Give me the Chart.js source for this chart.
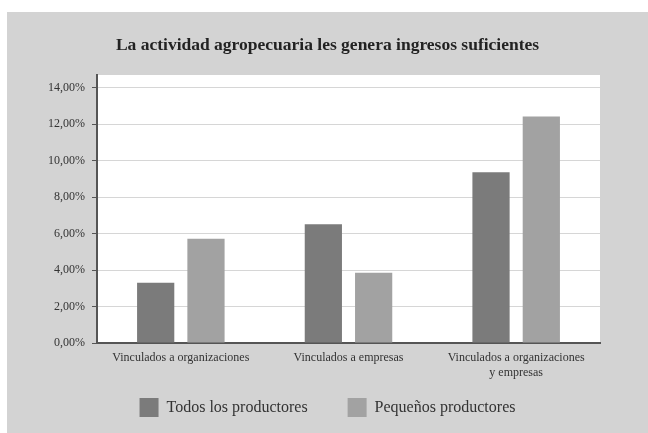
<!DOCTYPE html>
<html>
<head>
<meta charset="utf-8">
<script src="https://cdn.jsdelivr.net/npm/chart.js@4.4.0/dist/chart.umd.min.js"></script>
<style>
  html, body { margin: 0; padding: 0; background: #ffffff; }
  #box { position: absolute; left: 7px; top: 12px; width: 641px; height: 421px; background: #d3d3d3; }
</style>
</head>
<body>
<div id="box"><canvas id="chart"></canvas></div>
<script>
const categories = [
    "Vinculados a organizaciones",
    "Vinculados a empresas",
    ["Vinculados a organizaciones", "y empresas"]
];
const todosValues = [3.30, 6.52, 9.36];
const pequenosValues = [5.72, 3.85, 12.42];
const seriesNames = ["Todos los productores", "Pequeños productores"];
const yTickValues = [0, 2, 4, 6, 8, 10, 12, 14];

// white plot area behind the bars
const plotBackground = {
    id: 'plotBackground',
    beforeDraw(chart) {
        const a = chart.chartArea;
        const ctx = chart.ctx;
        ctx.save();
        ctx.fillStyle = '#ffffff';
        ctx.fillRect(a.left, a.top, a.right - a.left, a.bottom - a.top);
        ctx.restore();
    }
};

// legend padding is wide (for the gap between items), so pull the legend up a bit
const legendLift = {
    id: 'legendLift',
    afterLayout(chart) {
        chart.legend.top -= 22;
        chart.legend.height += 22;
    }
};

const serif = "'Liberation Serif', 'DejaVu Serif', serif";

new Chart(document.getElementById('chart'), {
    type: 'bar',
    data: {
        labels: categories,
        datasets: [{
            label: seriesNames[0],
            data: todosValues,
            backgroundColor: '#7b7b7b'
        }, {
            label: seriesNames[1],
            data: pequenosValues,
            backgroundColor: '#a2a2a2'
        }]
    },
    options: {
        responsive: true,
        maintainAspectRatio: false,
        animation: false,
        layout: { padding: { left: 0, right: 0, top: 0, bottom: 0 } },
        datasets: { bar: { categoryPercentage: 0.6, barPercentage: 0.74 } },
        plugins: {
            title: {
                display: true,
                text: 'La actividad agropecuaria les genera ingresos suficientes',
                color: '#222222',
                font: { family: serif, size: 17.5, weight: 'bold' },
                padding: { top: 23, bottom: 19 }
            },
            legend: {
                position: 'bottom',
                maxHeight: 53,
                labels: {
                    color: '#333333',
                    font: { family: serif, size: 16 },
                    boxWidth: 19,
                    boxHeight: 19,
                    padding: 40
                }
            },
            tooltip: { enabled: false }
        },
        scales: {
            x: {
                afterFit: scale => { scale.height = 37; },
                grid: { display: false },
                border: { display: true, color: '#555555', width: 2 },
                ticks: {
                    color: '#333333',
                    font: { family: serif, size: 12 },
                    maxRotation: 0,
                    padding: 0
                }
            },
            y: {
                min: 0,
                max: 14.7,
                afterFit: scale => { scale.width = 90; },
                afterBuildTicks: scale => {
                    scale.ticks = yTickValues.map(v => ({ value: v }));
                },
                grid: { color: '#d6d6d6', tickColor: '#555555', tickLength: 5 },
                border: { display: true, color: '#555555', width: 2 },
                ticks: {
                    color: '#333333',
                    font: { family: serif, size: 12 },
                    padding: 7,
                    callback: v => v.toFixed(2).replace('.', ',') + '%'
                }
            },
            // empty right axis, only keeps the right margin so title and legend stay centred
            yRight: {
                position: 'right',
                afterFit: scale => { scale.width = 48; },
                grid: { display: false },
                border: { display: false },
                ticks: { display: false }
            }
        }
    },
    plugins: [plotBackground, legendLift]
});
</script>
</body>
</html>
